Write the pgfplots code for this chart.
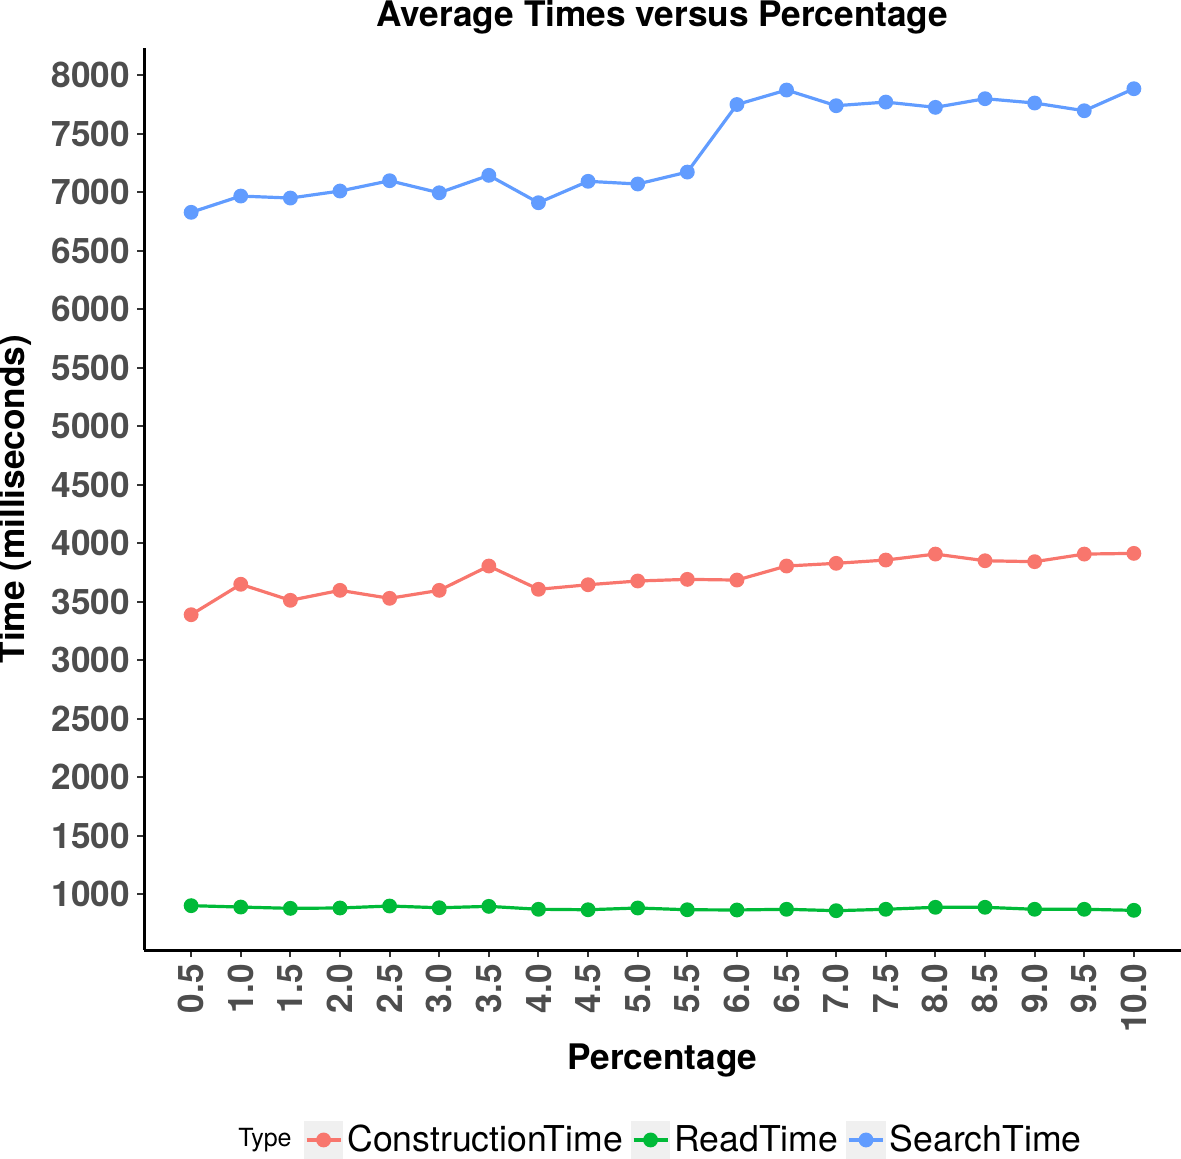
\documentclass[border=0pt]{standalone}
\usepackage{fontspec}
\setmainfont{TeX Gyre Heros}
\usepackage{pgfplots}
\pgfplotsset{compat=1.18}
\definecolor{cCon}{HTML}{F8766D}
\definecolor{cRead}{HTML}{00BA38}
\definecolor{cSearch}{HTML}{619CFF}
\definecolor{tickgray}{HTML}{4D4D4D}
\begin{document}
\begin{tikzpicture}
\useasboundingbox (-72pt,-104pt) rectangle (518.5pt,475pt);
\begin{axis}[
  scale only axis, width=518.5pt, height=451pt,
  xmin=-0.95, xmax=19.95, ymin=524, ymax=8231,
  clip=false,
  axis x line*=bottom, axis y line*=left,
  axis line style={line width=1.5pt, -},
  xtick={0,1,...,19},
  xticklabels={0.5,1.0,1.5,2.0,2.5,3.0,3.5,4.0,4.5,5.0,5.5,6.0,6.5,7.0,7.5,8.0,8.5,9.0,9.5,10.0},
  ytick={1000,1500,...,8000},
  scaled y ticks=false,
  tick align=outside, major tick length=3.5pt,
  tick style={line width=1pt, black!80},
  every tick label/.append style={font=\fontsize{17.6}{20}\selectfont\bfseries, text=tickgray},
  /pgf/number format/assume math mode=true,
  /pgf/number format/set thousands separator={},
  xticklabel style={rotate=90, anchor=east},
  xlabel={Percentage},
  xlabel style={font=\fontsize{17.6}{20}\selectfont\bfseries, at={(0.5,-0.122)}, anchor=center},
  ylabel={Time (milliseconds)},
  ylabel style={font=\fontsize{17.6}{20}\selectfont\bfseries, at={(-0.1244,0.5)}, anchor=center},
  legend columns=3,
  legend style={draw=none, fill=none, at={(0.531,-0.2106)}, anchor=center,
    font=\fontsize{17.8}{20}\selectfont,
    /tikz/every even column/.append style={column sep=2pt}},
  legend image code/.code={
    \fill[black!6] (-0.02cm,-0.31cm) rectangle (0.62cm,0.31cm);
    \draw[mark repeat=2,mark phase=2,#1] plot coordinates {(0cm,0cm)(0.3cm,0cm)(0.6cm,0cm)};
  },
  every axis plot/.append style={line width=1.6pt, mark=*, mark size=2.9pt, mark options={solid}},
]
\addplot[color=cCon] coordinates {
(0,3389)(1,3649)(2,3512)(3,3597)(4,3529)(5,3597)(6,3805)(7,3606)(8,3645)(9,3677)
(10,3691)(11,3685)(12,3805)(13,3828)(14,3856)(15,3907)(16,3850)(17,3842)(18,3907)(19,3913)};
\addlegendentry{ConstructionTime}
\addplot[color=cRead] coordinates {
(0,903)(1,891)(2,880)(3,883)(4,900)(5,885)(6,897)(7,872)(8,868)(9,883)
(10,868)(11,866)(12,872)(13,860)(14,872)(15,889)(16,889)(17,872)(18,872)(19,863)};
\addlegendentry{ReadTime}
\addplot[color=cSearch] coordinates {
(0,6827)(1,6966)(2,6949)(3,7009)(4,7097)(5,6994)(6,7143)(7,6909)(8,7092)(9,7069)
(10,7171)(11,7748)(12,7872)(13,7738)(14,7769)(15,7724)(16,7798)(17,7761)(18,7695)(19,7883)};
\addlegendentry{SearchTime}
\node[font=\fontsize{12.5}{14}\selectfont] at (rel axis cs:0.1167,-0.2106) {Type};
\node[font=\fontsize{17.6}{20}\selectfont\bfseries, anchor=base] at (rel axis cs:0.5,1.0244) {Average Times versus Percentage};
\end{axis}
\end{tikzpicture}
\end{document}
